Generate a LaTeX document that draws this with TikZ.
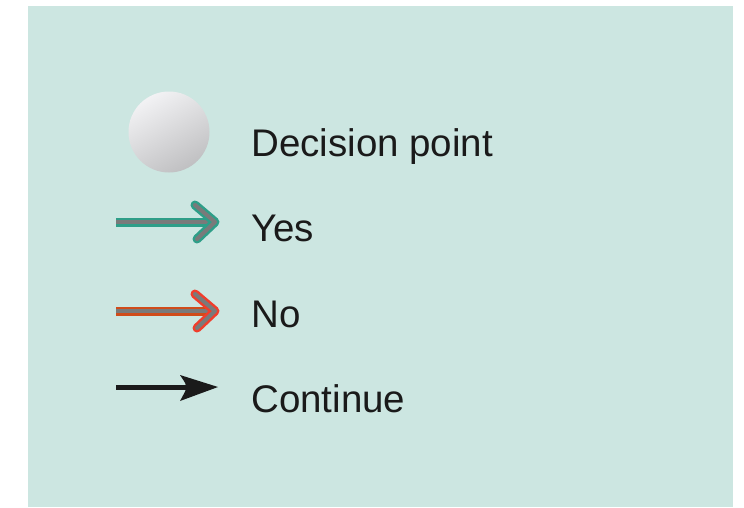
\documentclass[tikz,border=0pt]{standalone}
\usepackage{fontspec}
\setmainfont{Liberation Sans}
\definecolor{bgteal}{RGB}{204,230,225}
\definecolor{yesout}{RGB}{46,158,136}
\definecolor{coregray}{RGB}{122,122,122}
\definecolor{noshaft}{RGB}{208,76,26}
\definecolor{nohead}{RGB}{240,62,44}
\definecolor{txt}{RGB}{26,26,26}
\definecolor{ballhi}{RGB}{242,242,244}
\definecolor{balllo}{RGB}{192,192,194}
\tikzset{
  lbl/.style={anchor=base west, inner sep=0pt, text=txt, font=\fontsize{38.5}{42}\selectfont},
  outerln/.style={line width=9pt, line join=round},
  innerln/.style={line width=4pt, coregray, line join=round},
}
\begin{document}
\begin{tikzpicture}[x=1pt,y=1pt]
\useasboundingbox (0,0) rectangle (744,-507);
\fill[bgteal] (28,-6) rectangle (733,-507);
% decision point ball
\node[circle, minimum size=81pt, inner sep=0pt, shading=axis, top color=ballhi, bottom color=balllo, shading angle=30] (dp) at (169,-132) {};
\node[lbl] (tdp) at (251,-156) {Decision point};
% yes arrow
\coordinate (ys) at (116,-222);
\coordinate (ye) at (211,-222);
\coordinate (ya) at (195,-205);
\coordinate (yt) at (215,-222);
\coordinate (yb) at (197,-239);
\draw[outerln, yesout] (ys) -- (ye);
\draw[innerln] (ys) -- (ye);
\draw[outerln, yesout, line cap=round] (ya) -- (yt) -- (yb);
\draw[innerln, line cap=round] (ya) -- (yt) -- (yb);
\node[lbl] (tyes) at (251,-241) {Yes};
% no arrow
\coordinate (ns) at (116,-311);
\coordinate (ne) at (211,-311);
\coordinate (na) at (195,-294);
\coordinate (nt) at (215,-311);
\coordinate (nb) at (197,-328);
\draw[outerln, noshaft] (ns) -- (ne);
\draw[innerln] (ns) -- (ne);
\draw[outerln, nohead, line cap=round] (na) -- (nt) -- (nb);
\draw[innerln, line cap=round] (na) -- (nt) -- (nb);
\node[lbl] (tno) at (251,-327) {No};
% continue arrow
\coordinate (cs) at (116,-387);
\coordinate (ce) at (190,-387);
\coordinate (ct) at (218,-387);
\draw[txt, line width=5pt] (cs) -- (ce);
\fill[txt] (ct) -- (180,-375) .. controls (186,-384) .. (186,-387) .. controls (186,-390) .. (180,-401) -- cycle;
\node[lbl] (tcont) at (251,-412) {Continue};
\end{tikzpicture}
\end{document}
